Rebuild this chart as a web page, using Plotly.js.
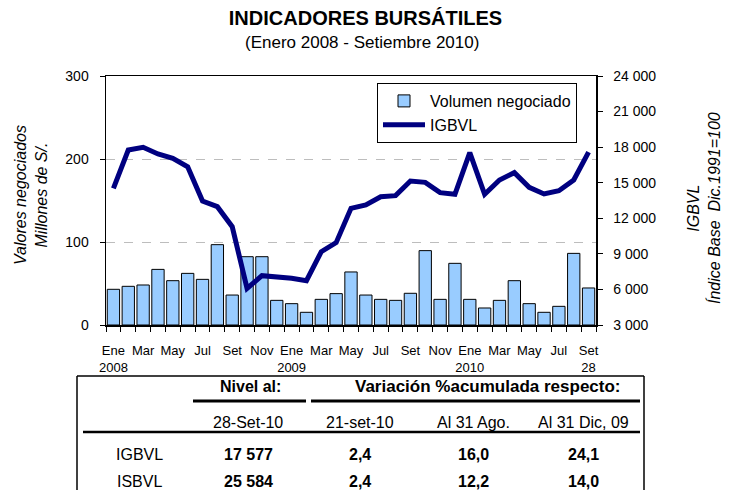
<!DOCTYPE html>
<html><head><meta charset="utf-8">
<script src="https://cdn.plot.ly/plotly-3.0.1.min.js"></script>
<style>html,body{margin:0;padding:0;background:#fff}</style>
</head><body><div id="chart" style="width:731px;height:490px"></div>
<script>
const meses = ['Ene-08','Feb-08','Mar-08','Abr-08','May-08','Jun-08','Jul-08','Ago-08','Set-08','Oct-08','Nov-08','Dic-08',
  'Ene-09','Feb-09','Mar-09','Abr-09','May-09','Jun-09','Jul-09','Ago-09','Set-09','Oct-09','Nov-09','Dic-09',
  'Ene-10','Feb-10','Mar-10','Abr-10','May-10','Jun-10','Jul-10','Ago-10','Set-10'];
const etiquetas = ['Ene<br>2008','','Mar','','May','','Jul','','Set','','Nov','',
  'Ene<br>2009','','Mar','','May','','Jul','','Set','','Nov','',
  'Ene<br>2010','','Mar','','May','','Jul','','Set<br>28'];
const volumen = [43,46.6,48.2,67,53.4,62.2,55,96.8,36.1,82.3,82.3,29.7,
  25.7,15.3,30.9,37.8,63.9,36.1,30.9,29.7,38.2,89.6,30.9,74.3,
  30.9,20.5,29.7,53.4,25.7,15.3,22.5,86.3,44.6];
const igbvl = [14530,17760,17985,17420,17060,16350,13460,12980,11290,6090,7160,7080,
  6940,6740,9185,9945,12840,13120,13820,13910,15145,15030,14160,14020,
  17535,14020,15230,15850,14610,14050,14330,15230,17577];

const tablaFilas = ['IGBVL','ISBVL'];
const encabezados = ['28-Set-10','21-set-10','Al 31 Ago.','Al 31 Dic, 09'];
const nivel = ['17 577','25 584'];
const var21 = ['2,4','2,4'];
const varAgo = ['16,0','12,2'];
const varDic = ['24,1','14,0'];

const FONT = 'Liberation Sans, Arial, sans-serif';
const L = 106, R = 596, T = 76, B = 325;
const px = p => (p - L) / (R - L);
const py = p => (B - p) / (B - T);

const traces = [
  {type:'bar', name:'Volumen negociado', x:meses, y:volumen, yaxis:'y',
   marker:{color:'#99CCFF', line:{color:'#000000', width:1}}},
  {type:'scatter', mode:'lines', name:'IGBVL', x:meses, y:igbvl, yaxis:'y2',
   line:{color:'#000080', width:5}}
];

const ann = [];
function txt(x, y, t, size, extra) {
  ann.push(Object.assign({xref:'paper', yref:'paper', x:px(x), y:py(y), text:t, showarrow:false,
    xanchor:'center', yanchor:'middle', font:{family:FONT, size:size, color:'#000'}}, extra || {}));
}
txt(362, 42, '(Enero 2008 - Setiembre 2010)', 17);
txt(31, 195, '<i>Valores negociados<br>Millones de S/.</i>', 16, {textangle:-90});
txt(704, 208, '<i>IGBVL<br>Índice Base  Dic.1991=100</i>', 16, {textangle:-90});

const colX = [248, 360, 473, 583];
txt(250, 386, '<b>Nivel al:</b>', 16);
txt(488, 386, '<b>Variación %acumulada respecto:</b>', 17);
encabezados.forEach((h, i) => txt(colX[i], 422, h, 16));
const filasY = [454, 482];
tablaFilas.forEach((f, r) => {
  txt(139, filasY[r], f, 16);
  [nivel, var21, varAgo, varDic].forEach((col, c) => txt(colX[c], filasY[r], '<b>' + col[r] + '</b>', 16));
});

function line(x0, y0, x1, y1, w) {
  return {type:'line', xref:'paper', yref:'paper', x0:px(x0), y0:py(y0), x1:px(x1), y1:py(y1),
    line:{color:'#000', width:w}};
}
const shapes = [
  line(77, 376, 644, 376, 1.5),
  line(77, 376, 77, 495, 1.5),
  line(644, 376, 644, 495, 1.5),
  line(193, 401, 306, 401, 3),
  line(311, 401, 640, 401, 3),
  line(83, 432, 640, 432, 2.5)
];

const layout = {
  width:731, height:490,
  margin:{l:L, r:731-R, t:T, b:490-B, pad:0},
  paper_bgcolor:'#fff', plot_bgcolor:'#fff',
  font:{family:FONT, size:13, color:'#000'},
  separators:', ',
  title:{text:'<b>INDICADORES BURSÁTILES</b>', font:{family:FONT, size:20, color:'#000'},
    xref:'container', x:0.5, xanchor:'center', yref:'container', y:1-18/490, yanchor:'middle'},
  showlegend:true,
  legend:{x:px(377), y:py(83), xanchor:'left', yanchor:'top', bordercolor:'#000', borderwidth:1,
    bgcolor:'#fff', itemwidth:42, font:{family:FONT, size:16, color:'#000'}},
  bargap:0.17,
  xaxis:{type:'category', tickvals:meses, ticktext:etiquetas, tickson:'boundaries',
    ticks:'outside', ticklen:5, tickcolor:'#000', showline:true, linecolor:'#000', linewidth:1.5,
    mirror:true, showgrid:false, tickangle:0, tickfont:{size:13}, ticklabelstandoff:13},
  yaxis:{range:[0,300], dtick:100, tick0:0, ticks:'outside', ticklen:5, tickcolor:'#000',
    showline:true, linecolor:'#000', linewidth:1.5, showgrid:true, gridcolor:'#bdbdbd',
    griddash:'dash', zeroline:false, tickfont:{size:14}, ticklabelstandoff:8},
  yaxis2:{range:[3000,24000], dtick:3000, tick0:3000, overlaying:'y', side:'right',
    ticks:'outside', ticklen:5, tickcolor:'#000', showline:true, linecolor:'#000', linewidth:1.5,
    showgrid:false, zeroline:false, tickformat:',d', tickfont:{size:14}, ticklabelstandoff:8},
  annotations:ann,
  shapes:shapes
};
Plotly.newPlot('chart', traces, layout, {staticPlot:true, displayModeBar:false});
</script></body></html>
